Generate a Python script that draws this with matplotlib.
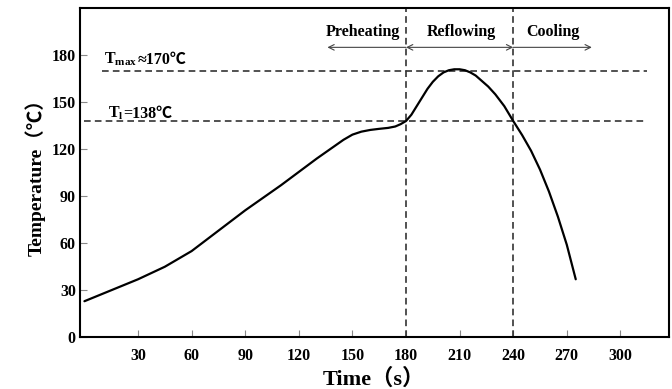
import matplotlib
matplotlib.use("Agg")
import matplotlib.pyplot as plt

# reflow temperature profile
time_s = [0, 15, 30, 45, 60, 75, 90, 110, 130, 140, 145, 150, 155, 160, 165,
          170, 174, 177, 180, 183, 186, 189, 192, 195, 198, 201, 204, 207, 210,
          213, 216, 219, 222, 226, 230, 235, 240, 245, 250, 255, 260, 265, 270, 275]
temp_c = [23, 30, 37, 45, 55, 68, 81, 97, 114, 122, 126, 129.3, 131.2, 132.3, 133,
          133.6, 134.5, 136, 138, 142, 147.5, 153, 158.5, 163, 166.5, 169, 170.4, 171, 171,
          170.4, 169, 167, 164, 160, 155, 147.5, 138, 129, 119, 107, 93, 77, 59, 37]

x_ticks = [30, 60, 90, 120, 150, 180, 210, 240, 270, 300]
y_ticks = [0, 30, 60, 90, 120, 150, 180]

t_max = 170
t_liquidus = 138
zone_edges = [180, 240]
zones = ["Preheating", "Reflowing", "Cooling"]
zone_text_x = [156, 211, 262]
zone_arrow_x = [(136, 180), (180, 240), (240, 284)]
zone_arrow_style = ["<-", "<->", "->"]

plt.rcParams['font.family'] = ['Liberation Serif', 'Noto Sans CJK SC', 'DejaVu Sans']
plt.rcParams['font.weight'] = 'bold'
plt.rcParams['mathtext.fontset'] = 'custom'
plt.rcParams['mathtext.rm'] = 'Liberation Serif:bold'
plt.rcParams['mathtext.it'] = 'Liberation Serif:bold'
plt.rcParams['mathtext.bf'] = 'Liberation Serif:bold'

fig = plt.figure(figsize=(6.72, 3.89), dpi=100)
ax = fig.add_axes([0.119, 0.133, 0.876, 0.846])

dash_kw = dict(color='#333333', lw=1.2, dashes=[4, 2.5])
ax.plot([10, 315], [t_max, t_max], **dash_kw)
ax.plot([0, 315], [t_liquidus, t_liquidus], **dash_kw)
for xe in zone_edges:
    ax.plot([xe, xe], [0, 210], **dash_kw)

ax.plot(time_s, temp_c, color='black', lw=1.6, solid_capstyle='round',
        solid_joinstyle='round')

# labels of the two levels: subscript part in mathtext, the rest as plain text
for sym, rest, xs, yb in [(r"T$_{\mathrm{max}}$", "≈170℃", 11, 174.5),
                          (r"T$_{\mathrm{l}}$", "=138℃", 13, 140)]:
    t1 = ax.text(xs, yb, sym, fontsize=11.5, fontweight='bold', ha='left', va='baseline')
    ax.annotate(rest, xy=(1, yb), xycoords=(t1, 'data'), fontsize=11.5,
                fontweight='bold', ha='left', va='baseline')

for name, tx, (xa, xb), st in zip(zones, zone_text_x, zone_arrow_x, zone_arrow_style):
    ax.text(tx, 195, name, fontsize=11.5, fontweight='bold', ha='center', va='center')
    ax.annotate("", xy=(xb, 185), xytext=(xa, 185),
                arrowprops=dict(arrowstyle=st, color='#444444', lw=0.8,
                                shrinkA=0, shrinkB=0))

ax.set_xlim(-2.5, 327)
ax.set_ylim(0, 210)
ax.set_xticks(x_ticks)
ax.set_yticks(y_ticks)
ax.tick_params(direction='in', length=5, color='#888888', labelsize=11.5, pad=8)
ax.tick_params(axis='y', pad=3)
for lab in ax.get_xticklabels() + ax.get_yticklabels():
    lab.set_fontweight('bold')
for sp in ax.spines.values():
    sp.set_linewidth(1.5)

ax.set_xlabel("Time（s）", fontsize=16, fontweight='bold', labelpad=3)
ax.set_ylabel("Temperature（℃）", fontsize=14, fontweight='bold', labelpad=4)

fig.savefig("out.png", dpi=100)
